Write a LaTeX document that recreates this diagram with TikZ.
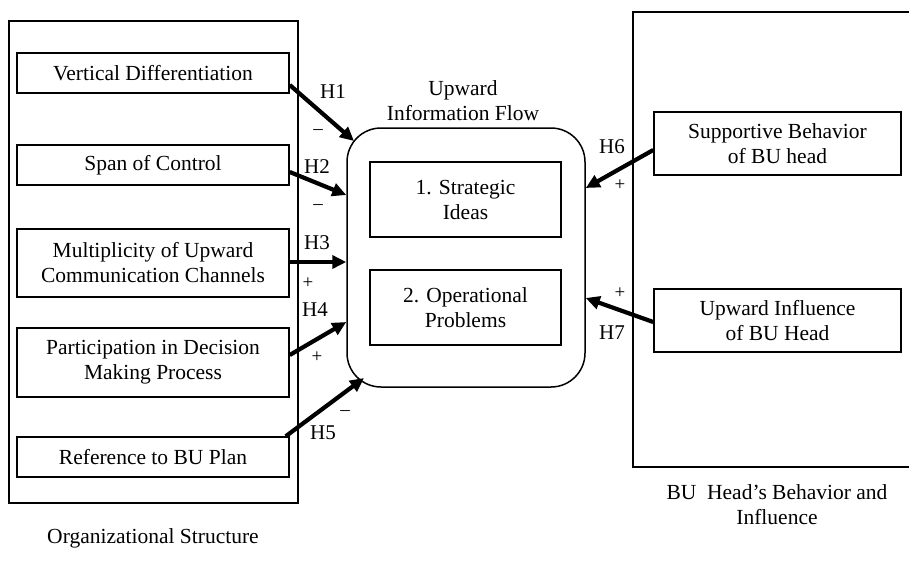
\documentclass[tikz,border=0pt]{standalone}
\usepackage{fontspec}
\setmainfont{Liberation Serif}
\usetikzlibrary{arrows.meta}
\begin{document}
\begin{tikzpicture}[x=1pt,y=-1pt,
  txt/.style={font=\fontsize{21.5}{25}\selectfont, align=center, inner sep=0pt},
  varbox/.style={txt, draw, line width=1.5pt, anchor=center},
  frame/.style={draw, line width=1.5pt},
  hyp/.style={line width=4.2pt, -{Triangle[length=14pt,width=13pt]}},
  hlab/.style={font=\fontsize{21}{24}\selectfont, inner sep=0pt},
  sign/.style={font=\fontsize{19}{22}\selectfont, inner sep=0pt}]
\useasboundingbox (0,0) rectangle (909,563);

% left group: organizational structure
\draw[frame] (9,21) rectangle (298,503);
\node[varbox, minimum width=272, minimum height=40] (vd) at (153,73) {Vertical Differentiation};
\node[varbox, minimum width=272, minimum height=40] (sc) at (153,165) {Span of Control};
\node[varbox, minimum width=272, minimum height=68] (mu) at (153,263) {Multiplicity of Upward\\Communication Channels};
\node[varbox, minimum width=272, minimum height=69] (pa) at (153,362.5) {Participation in Decision\\Making Process};
\node[varbox, minimum width=272, minimum height=40] (rf) at (153,457) {Reference to BU Plan};
\node[txt] (orglab) at (153,538) {Organizational Structure};

% central outcome
\node[draw, line width=1.5pt, rounded corners=34pt, minimum width=238, minimum height=259, inner sep=0pt] (flow) at (466,257.5) {};
\node[txt] (flowlab) at (463,101) {Upward\\Information Flow};
\node[varbox, minimum width=191, minimum height=75] (si) at (465.5,199.5) {1. Strategic\\Ideas};
\node[varbox, minimum width=191, minimum height=75] (op) at (465.5,307.5) {2. Operational\\Problems};

% right group: BU head
\draw[frame] (912,12) -- (633,12) -- (633,467) -- (912,467);
\node[varbox, minimum width=247, minimum height=63] (sb) at (777.5,143.5) {Supportive Behavior\\of BU head};
\node[varbox, minimum width=247, minimum height=63] (ui) at (777.5,320.5) {Upward Influence\\of BU Head};
\node[txt] (bulab) at (777,505) {BU\ \ Head’s Behavior and\\Influence};

% hypothesis arrows
\coordinate (f1) at (354,141);
\coordinate (f5) at (364,378);
\draw[hyp] (vd.east |- 0,85) -- (f1);
\draw[hyp] (sc.east |- 0,172) -- (flow.west |- 0,195);
\draw[hyp] (mu.east |- 0,262) -- (flow.west |- 0,262);
\draw[hyp] (pa.east |- 0,355) -- (flow.west |- 0,322);
\draw[hyp] ([xshift=-4pt]rf.north east) -- (f5);
\draw[hyp] (sb.west |- 0,150) -- (flow.east |- 0,188);
\draw[hyp] (ui.west |- 0,322) -- (flow.east |- 0,298);

% hypothesis labels and signs
\node[hlab] (h1) at (333,92) {H1};
\node[sign] (s1) at (318,132) {\textendash};
\node[hlab] (h2) at (317,167) {H2};
\node[sign] (s2) at (318,207) {\textendash};
\node[hlab] (h3) at (317,243) {H3};
\node[sign] (s3) at (308,283) {+};
\node[hlab] (h4) at (315,310) {H4};
\node[sign] (s4) at (317,357) {+};
\node[hlab] (h5) at (323,433) {H5};
\node[sign] (s5) at (345,413) {\textendash};
\node[hlab] (h6) at (612,147) {H6};
\node[sign] (s6) at (620,185) {+};
\node[hlab] (h7) at (612,333) {H7};
\node[sign] (s7) at (620,293) {+};
\end{tikzpicture}
\end{document}
